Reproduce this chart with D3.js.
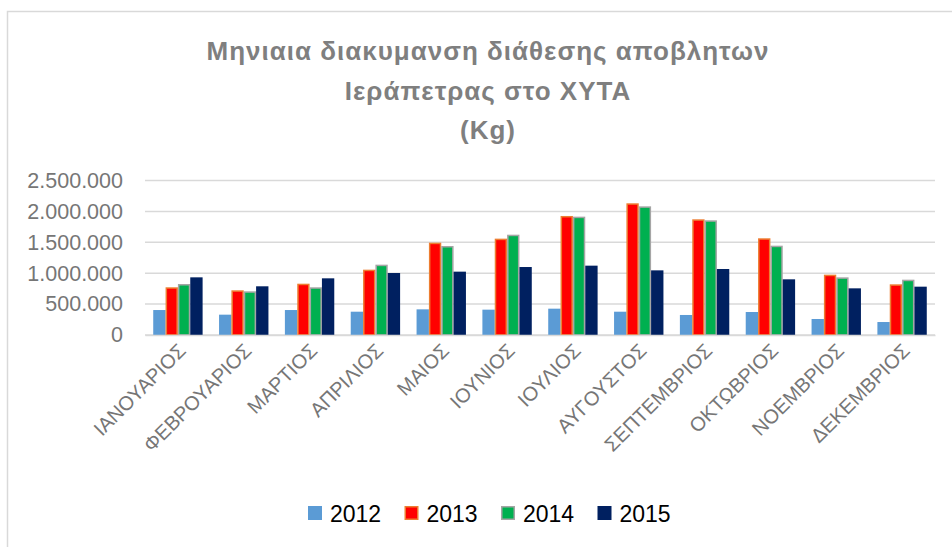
<!DOCTYPE html>
<html>
<head>
<meta charset="utf-8">
<script src="https://cdn.jsdelivr.net/npm/d3@7"></script>
<style>
  body { margin: 0; background: #fff; }
  svg { display: block; }
</style>
</head>
<body>
<svg id="chart" width="952" height="547"></svg>
<script>
// data
var months = ["ΙΑΝΟΥΑΡΙΟΣ", "ΦΕΒΡΟΥΑΡΙΟΣ", "ΜΑΡΤΙΟΣ", "ΑΠΡΙΛΙΟΣ", "ΜΑΙΟΣ", "ΙΟΥΝΙΟΣ",
              "ΙΟΥΛΙΟΣ", "ΑΥΓΟΥΣΤΟΣ", "ΣΕΠΤΕΜΒΡΙΟΣ", "ΟΚΤΩΒΡΙΟΣ", "ΝΟΕΜΒΡΙΟΣ", "ΔΕΚΕΜΒΡΙΟΣ"];
var years = ["2012", "2013", "2014", "2015"];
var v2012 = [404000, 329000, 404000, 377000, 415000, 410000, 426000, 377000, 324000, 372000, 259000, 210000];
var v2013 = [772000, 723000, 830000, 1057000, 1494000, 1559000, 1926000, 2131000, 1872000, 1565000, 976000, 820000];
var v2014 = [825000, 707000, 772000, 1138000, 1440000, 1623000, 1915000, 2082000, 1856000, 1445000, 933000, 895000];
var v2015 = [933000, 788000, 917000, 1003000, 1025000, 1100000, 1122000, 1046000, 1068000, 901000, 755000, 782000];
var yTicks = [0, 500000, 1000000, 1500000, 2000000, 2500000];
var titleLines = ["Μηνιαια διακυμανση διάθεσης αποβλητων", "Ιεράπετρας στο ΧΥΤΑ", "(Kg)"];

var series = [v2012, v2013, v2014, v2015];
var fills = ["#5B9BD5", "#FF0000", "#00B050", "#002060"];
var strokes = ["none", "#ED7D31", "#A5A5A5", "none"];

var data = months.map(function(m, i) {
  return { month: m, vals: series.map(function(s, k) { return { year: years[k], k: k, v: s[i] }; }) };
});

var svg = d3.select("#chart");
var font = "'Liberation Sans', Arial, sans-serif";

// chart frame
svg.append("rect")
    .attr("x", 7.5).attr("y", 11.5)
    .attr("width", 1000).attr("height", 600)
    .attr("fill", "none")
    .attr("stroke", "#D9D9D9")
    .attr("stroke-width", 1.5);

// title
svg.append("g")
    .attr("font-family", font)
    .attr("font-weight", "bold")
    .attr("font-size", 26)
    .attr("letter-spacing", 1)
    .attr("fill", "#7F7F7F")
    .attr("text-anchor", "middle")
  .selectAll("text")
  .data(titleLines)
  .enter().append("text")
    .attr("x", 488)
    .attr("y", function(d, i) { return 60 + i * 39.5; })
    .text(function(d) { return d; });

var plotL = 145, plotR = 935, plotT = 180.5, plotB = 335;

var x0 = d3.scaleBand()
    .domain(months)
    .range([plotL, plotR])
    .paddingInner(0.25)
    .paddingOuter(0.125);

var x1 = d3.scaleBand()
    .domain(years)
    .range([0, x0.bandwidth()]);

var y = d3.scaleLinear()
    .domain([0, 2500000])
    .range([plotB, plotT]);

var fmt = function(v) { return d3.format(",")(v).replace(/,/g, "."); };

// gridlines
svg.append("g")
  .selectAll("line")
  .data(yTicks)
  .enter().append("line")
    .attr("x1", plotL).attr("x2", plotR)
    .attr("y1", function(d) { return y(d); })
    .attr("y2", function(d) { return y(d); })
    .attr("stroke", "#D9D9D9")
    .attr("stroke-width", 1.5);

// y axis labels
var yAxis = svg.append("g")
    .attr("transform", "translate(" + (plotL - 22) + ",0)")
    .call(d3.axisLeft(y).tickValues(yTicks).tickFormat(fmt).tickSize(0).tickPadding(0));
yAxis.select(".domain").remove();
yAxis.selectAll("text")
    .attr("font-family", font)
    .attr("font-size", 21.5)
    .attr("fill", "#767676");

// bars
svg.append("g")
  .selectAll("g")
  .data(data)
  .enter().append("g")
    .attr("transform", function(d) { return "translate(" + x0(d.month) + ",0)"; })
  .selectAll("rect")
  .data(function(d) { return d.vals; })
  .enter().append("rect")
    .attr("x", function(d) { return x1(d.year) + (strokes[d.k] == "none" ? 0 : 0.75); })
    .attr("y", function(d) { return y(d.v) + (strokes[d.k] == "none" ? 0 : 0.75); })
    .attr("width", function(d) { return x1.bandwidth() - (strokes[d.k] == "none" ? 0 : 1.5); })
    .attr("height", function(d) { return y(0) - y(d.v) - (strokes[d.k] == "none" ? 0 : 0.75); })
    .attr("fill", function(d) { return fills[d.k]; })
    .attr("stroke", function(d) { return strokes[d.k]; })
    .attr("stroke-width", 1.5);

// x axis
var xAxis = svg.append("g")
    .attr("transform", "translate(0," + plotB + ")")
    .call(d3.axisBottom(x0).tickSize(0).tickPadding(0));
xAxis.select(".domain")
    .attr("stroke", "#D9D9D9")
    .attr("stroke-width", 1.5);
xAxis.selectAll("text")
    .attr("font-family", font)
    .attr("font-size", 20)
    .attr("fill", "#767676")
    .attr("text-anchor", "end")
    .attr("dy", "0")
    .attr("transform", "translate(9,17) rotate(-45)");

// legend
var legend = svg.append("g")
    .attr("font-family", font)
    .attr("font-size", 23)
    .attr("fill", "#000")
  .selectAll("g")
  .data(years)
  .enter().append("g")
    .attr("transform", function(d, i) { return "translate(" + (308 + i * 96.5) + ",506)"; });

legend.append("rect")
    .attr("x", function(d, i) { return strokes[i] == "none" ? 0 : 0.75; })
    .attr("y", function(d, i) { return strokes[i] == "none" ? 0 : 0.75; })
    .attr("width", function(d, i) { return strokes[i] == "none" ? 14 : 12.5; })
    .attr("height", function(d, i) { return strokes[i] == "none" ? 14 : 12.5; })
    .attr("fill", function(d, i) { return fills[i]; })
    .attr("stroke", function(d, i) { return strokes[i]; })
    .attr("stroke-width", 1.5);

legend.append("text")
    .attr("x", 22)
    .attr("y", 15.5)
    .text(function(d) { return d; });
</script>
</body>
</html>
